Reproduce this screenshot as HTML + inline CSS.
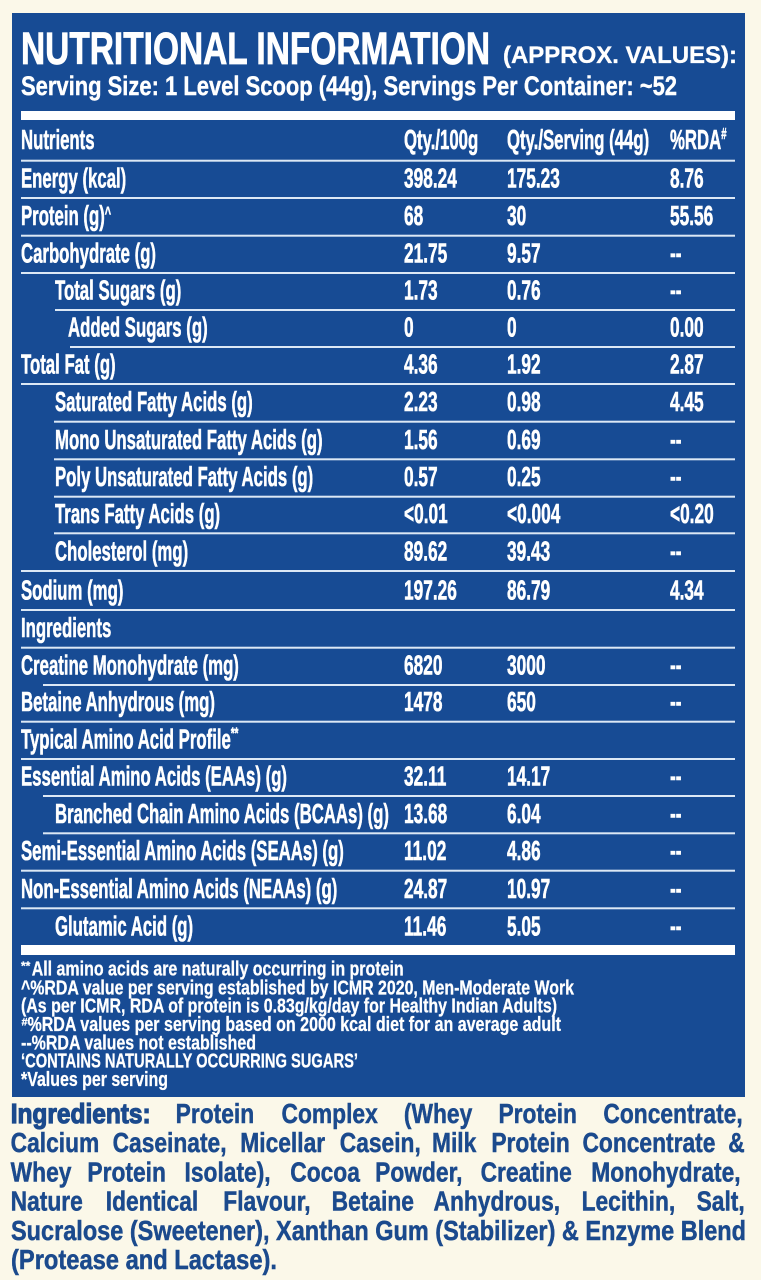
<!DOCTYPE html>
<html><head><meta charset="utf-8"><style>
html,body{margin:0;padding:0;background:#fbf8e9;}
svg{display:block;}
text{font-family:"Liberation Sans",Arial,sans-serif;font-weight:bold;}
</style></head><body>
<svg width="761" height="1280" viewBox="0 0 761 1280" xmlns="http://www.w3.org/2000/svg">
<rect x="0" y="0" width="761" height="1280" fill="#fbf8e9"/>
<rect x="12" y="13" width="733" height="1084" fill="#174b94"/>

<!-- Title -->
<g fill="#ffffff" stroke="#ffffff">
<text x="21" y="64" font-size="45" stroke-width="0.8" textLength="469" lengthAdjust="spacingAndGlyphs">NUTRITIONAL INFORMATION</text>
<text x="503" y="63" font-size="24" stroke-width="0.3" textLength="234" lengthAdjust="spacingAndGlyphs">(APPROX. VALUES):</text>
<text x="21" y="95" font-size="27" stroke-width="0.4" textLength="656" lengthAdjust="spacingAndGlyphs">Serving Size: 1 Level Scoop (44g), Servings Per Container: ~52</text>
</g>

<!-- Bars -->
<rect x="21" y="111" width="714" height="9" fill="#ffffff"/>
<rect x="21" y="945" width="714" height="10" fill="#ffffff"/>

<!-- Row lines -->
<g fill="#dce8f5">
<rect x="21" y="159.7" width="714" height="2"/>
<rect x="21" y="197" width="714" height="2"/>
<rect x="21" y="234.7" width="714" height="2"/>
<rect x="21" y="272" width="714" height="2"/>
<rect x="55" y="309" width="680" height="2"/>
<rect x="70" y="346" width="665" height="2"/>
<rect x="21" y="383" width="714" height="2"/>
<rect x="54" y="420.7" width="681" height="2"/>
<rect x="54" y="458.3" width="681" height="2"/>
<rect x="54" y="495.7" width="681" height="2"/>
<rect x="54" y="532.3" width="681" height="2"/>
<rect x="21" y="570" width="714" height="2"/>
<rect x="21" y="609" width="714" height="2"/>
<rect x="21" y="646.7" width="714" height="2"/>
<rect x="43" y="684" width="692" height="2"/>
<rect x="21" y="720.7" width="714" height="2"/>
<rect x="21" y="758" width="714" height="2"/>
<rect x="43" y="795" width="692" height="2"/>
<rect x="43" y="832.3" width="692" height="2"/>
<rect x="21" y="869.7" width="714" height="2"/>
<rect x="21" y="907.3" width="714" height="2"/>
</g>

<!-- Labels (condensed) -->
<g fill="#ffffff" stroke="#ffffff" stroke-width="0.6" font-size="28" transform="scale(0.599,1)">
<text x="35.06" y="149">Nutrients</text>
<text x="674.5" y="149">Qty./100g</text>
<text x="846.4" y="149">Qty./Serving (44g)</text>
<text x="1118.5" y="149">%RDA<tspan font-size="16" dy="-10">#</tspan></text>
<text x="35.06" y="187.5">Energy (kcal)</text>
<text x="35.06" y="225">Protein (g)<tspan font-size="18" dy="-6">^</tspan></text>
<text x="35.06" y="262.5">Carbohydrate (g)</text>
<text x="91.82" y="299.5">Total Sugars (g)</text>
<text x="113.5" y="336.5">Added Sugars (g)</text>
<text x="35.06" y="373.5">Total Fat (g)</text>
<text x="91.82" y="411">Saturated Fatty Acids (g)</text>
<text x="91.82" y="449">Mono Unsaturated Fatty Acids (g)</text>
<text x="91.82" y="486">Poly Unsaturated Fatty Acids (g)</text>
<text x="91.82" y="523">Trans Fatty Acids (g)</text>
<text x="91.82" y="560.5">Cholesterol (mg)</text>
<text x="35.06" y="599.5">Sodium (mg)</text>
<text x="35.06" y="637">Ingredients</text>
<text x="35.06" y="674.5">Creatine Monohydrate (mg)</text>
<text x="35.06" y="711">Betaine Anhydrous (mg)</text>
<text x="35.06" y="748.5">Typical Amino Acid Profile<tspan font-size="16" dy="-10">**</tspan></text>
<text x="35.06" y="785.5">Essential Amino Acids (EAAs) (g)</text>
<text x="91.82" y="823">Branched Chain Amino Acids (BCAAs) (g)</text>
<text x="35.06" y="860">Semi-Essential Amino Acids (SEAAs) (g)</text>
<text x="35.06" y="898">Non-Essential Amino Acids (NEAAs) (g)</text>
<text x="91.82" y="935.5">Glutamic Acid (g)</text>
</g>

<!-- Values -->
<g fill="#ffffff" stroke="#ffffff" stroke-width="0.6" font-size="28" transform="scale(0.6175,1)">
<text x="654.3" y="187.5">398.24</text><text x="821.1" y="187.5">175.23</text><text x="1085" y="187.5">8.76</text>
<text x="654.3" y="225">68</text><text x="821.1" y="225">30</text><text x="1085" y="225">55.56</text>
<text x="654.3" y="262.5">21.75</text><text x="821.1" y="262.5">9.57</text><text x="1085" y="262.5">--</text>
<text x="654.3" y="299.5">1.73</text><text x="821.1" y="299.5">0.76</text><text x="1085" y="299.5">--</text>
<text x="654.3" y="336.5">0</text><text x="821.1" y="336.5">0</text><text x="1085" y="336.5">0.00</text>
<text x="654.3" y="373.5">4.36</text><text x="821.1" y="373.5">1.92</text><text x="1085" y="373.5">2.87</text>
<text x="654.3" y="411">2.23</text><text x="821.1" y="411">0.98</text><text x="1085" y="411">4.45</text>
<text x="654.3" y="449">1.56</text><text x="821.1" y="449">0.69</text><text x="1085" y="449">--</text>
<text x="654.3" y="486">0.57</text><text x="821.1" y="486">0.25</text><text x="1085" y="486">--</text>
<text x="654.3" y="523">&lt;0.01</text><text x="821.1" y="523">&lt;0.004</text><text x="1085" y="523">&lt;0.20</text>
<text x="654.3" y="560.5">89.62</text><text x="821.1" y="560.5">39.43</text><text x="1085" y="560.5">--</text>
<text x="654.3" y="599.5">197.26</text><text x="821.1" y="599.5">86.79</text><text x="1085" y="599.5">4.34</text>
<text x="654.3" y="674.5">6820</text><text x="821.1" y="674.5">3000</text><text x="1085" y="674.5">--</text>
<text x="654.3" y="711">1478</text><text x="821.1" y="711">650</text><text x="1085" y="711">--</text>
<text x="654.3" y="785.5">32.11</text><text x="821.1" y="785.5">14.17</text><text x="1085" y="785.5">--</text>
<text x="654.3" y="823">13.68</text><text x="821.1" y="823">6.04</text><text x="1085" y="823">--</text>
<text x="654.3" y="860">11.02</text><text x="821.1" y="860">4.86</text><text x="1085" y="860">--</text>
<text x="654.3" y="898">24.87</text><text x="821.1" y="898">10.97</text><text x="1085" y="898">--</text>
<text x="654.3" y="935.5">11.46</text><text x="821.1" y="935.5">5.05</text><text x="1085" y="935.5">--</text>
</g>

<!-- Footnotes -->
<g fill="#ffffff" stroke="#ffffff" stroke-width="0.3" font-size="20">
<text x="21" y="970" font-size="12">**</text>
<text x="31.7" y="975.7" textLength="372" lengthAdjust="spacingAndGlyphs">All amino acids are naturally occurring in protein</text>
<text x="21" y="994.3" textLength="553" lengthAdjust="spacingAndGlyphs">^%RDA value per serving established by ICMR 2020, Men-Moderate Work</text>
<text x="21" y="1012.3" textLength="536" lengthAdjust="spacingAndGlyphs">(As per ICMR, RDA of protein is 0.83g/kg/day for Healthy Indian Adults)</text>
<text x="21.5" y="1025.5" font-size="11">#</text>
<text x="27.5" y="1031" textLength="533.5" lengthAdjust="spacingAndGlyphs">%RDA values per serving based on 2000 kcal diet for an average adult</text>
<text x="21" y="1049.3" textLength="235" lengthAdjust="spacingAndGlyphs">--%RDA values not established</text>
<text x="21" y="1067.7" textLength="337" lengthAdjust="spacingAndGlyphs">‘CONTAINS NATURALLY OCCURRING SUGARS’</text>
<text x="21" y="1086" textLength="147" lengthAdjust="spacingAndGlyphs">*Values per serving</text>
</g>

<!-- Ingredients paragraph -->
<g fill="#1b4a8d" stroke="#1b4a8d" stroke-width="0.5" font-size="28">
<text x="10.7" y="1123" textLength="140" lengthAdjust="spacingAndGlyphs" stroke-width="1.2">Ingredients:</text>
<g transform="scale(0.814,1)">
<text x="215.8" y="1123">Protein</text>
<text x="345.9" y="1123">Complex</text>
<text x="496.2" y="1123">(Whey</text>
<text x="612.4" y="1123">Protein</text>
<text x="741.3" y="1123">Concentrate,</text>

<text x="13.14" y="1152.2">Calcium</text>
<text x="138.3" y="1152.2">Caseinate,</text>
<text x="295.2" y="1152.2">Micellar</text>
<text x="417.4" y="1152.2">Casein,</text>
<text x="530.7" y="1152.2">Milk</text>
<text x="603.6" y="1152.2">Protein</text>
<text x="715.6" y="1152.2">Concentrate</text>
<text x="894.6" y="1152.2">&amp;</text>

<text x="13.14" y="1181.4">Whey</text>
<text x="107.4" y="1181.4">Protein</text>
<text x="226.7" y="1181.4">Isolate),</text>
<text x="356.6" y="1181.4">Cocoa</text>
<text x="460.9" y="1181.4">Powder,</text>
<text x="590.4" y="1181.4">Creatine</text>
<text x="726.4" y="1181.4">Monohydrate,</text>

<text x="13.14" y="1210.6">Nature</text>
<text x="130.0" y="1210.6">Identical</text>
<text x="274.3" y="1210.6">Flavour,</text>
<text x="407.4" y="1210.6">Betaine</text>
<text x="532.6" y="1210.6">Anhydrous,</text>
<text x="714.5" y="1210.6">Lecithin,</text>
<text x="855.8" y="1210.6">Salt,</text>
</g>
<text x="11" y="1239.8" textLength="735" lengthAdjust="spacingAndGlyphs">Sucralose (Sweetener), Xanthan Gum (Stabilizer) &amp; Enzyme Blend</text>
<text x="11" y="1269" textLength="266" lengthAdjust="spacingAndGlyphs">(Protease and Lactase).</text>
</g>
</svg>
</body></html>
